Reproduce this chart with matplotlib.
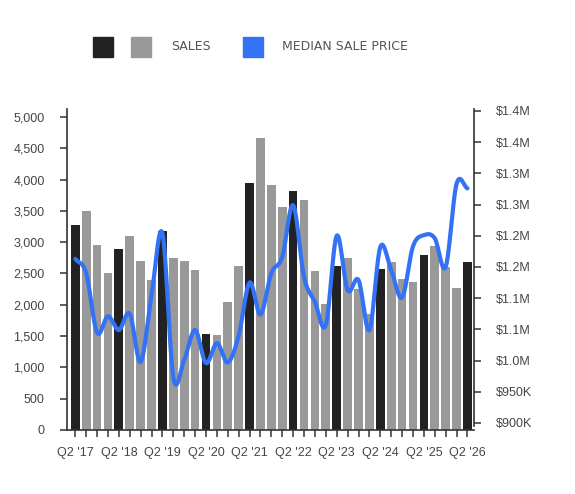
import numpy as np
import matplotlib
matplotlib.use("Agg")
import matplotlib.pyplot as plt
from matplotlib.patches import Rectangle

plt.rcParams['font.family'] = ['Liberation Sans', 'DejaVu Sans']

# quarterly sales, Q2 '17 .. Q2 '26
sales = [3270, 3500, 2960, 2500, 2890, 3105, 2700, 2390, 3180, 2745, 2700, 2550,
         1540, 1515, 2045, 2615, 3940, 4670, 3910, 3570, 3825, 3680, 2540, 2010,
         2620, 2745, 2250, 1850, 2575, 2690, 2405, 2360, 2790, 2935, 2605, 2275,
         2690]
# median sale price, in thousands
price_k = [1163, 1140, 1045, 1071, 1049, 1075, 998, 1105, 1204, 973, 1001, 1049,
           996, 1028, 997, 1040, 1125, 1074, 1140, 1166, 1249, 1134, 1094, 1057,
           1200, 1113, 1129, 1049, 1182, 1145, 1101, 1183, 1201, 1196, 1150, 1283,
           1276]
years = ["'17", "'18", "'19", "'20", "'21", "'22", "'23", "'24", "'25", "'26"]
left_ticks = [0, 500, 1000, 1500, 2000, 2500, 3000, 3500, 4000, 4500, 5000]
right_ticks = [900, 950, 1000, 1050, 1100, 1150, 1200, 1250, 1300, 1350, 1400]
right_labels = ["$900K", "$950K", "$1.0M", "$1.1M", "$1.1M", "$1.2M", "$1.2M",
                "$1.3M", "$1.3M", "$1.4M", "$1.4M"]

DARK = "#222222"
GRAY = "#999999"
BLUE = "#3371f5"
AXC = "#333333"
TXT = "#444444"


def catmull_rom(x, y, n=20):
    """smooth curve through the given points (uniform catmull-rom)"""
    x = np.asarray(x, float)
    y = np.asarray(y, float)
    px = np.concatenate(([2 * x[0] - x[1]], x, [2 * x[-1] - x[-2]]))
    py = np.concatenate(([2 * y[0] - y[1]], y, [2 * y[-1] - y[-2]]))
    xs, ys = [], []
    t = np.linspace(0, 1, n, endpoint=False)
    for i in range(1, len(px) - 2):
        for p, out in ((px, xs), (py, ys)):
            p0, p1, p2, p3 = p[i - 1], p[i], p[i + 1], p[i + 2]
            out.append(0.5 * (2 * p1 + (-p0 + p2) * t
                              + (2 * p0 - 5 * p1 + 4 * p2 - p3) * t ** 2
                              + (-p0 + 3 * p1 - 3 * p2 + p3) * t ** 3))
    xs.append([x[-1]])
    ys.append([y[-1]])
    return np.concatenate(xs), np.concatenate(ys)


n = len(sales)
idx = np.arange(n)
colors = [DARK if i % 4 == 0 else GRAY for i in idx]

fig = plt.figure(figsize=(5.75, 4.94), dpi=100)
ax = fig.add_axes([0.1165, 0.1296, 0.7078, 0.6498])
ax.bar(idx, sales, width=0.8, color=colors, zorder=2)
ax.set_xlim(-0.76, n - 1 + 0.6)
ax.set_ylim(0, 5128)
ax.set_yticks(left_ticks)
ax.set_yticklabels([f"{v:,}" for v in left_ticks])
ax.set_xticks(idx[::4])
ax.set_xticklabels(["Q2 " + y for y in years])
ax.set_xticks(idx, minor=True)

for s in ["top", "right"]:
    ax.spines[s].set_visible(False)
for s in ["left", "bottom"]:
    ax.spines[s].set_color(AXC)
    ax.spines[s].set_linewidth(1.2)
ax.tick_params(axis="both", which="both", direction="out", length=5, width=1.1,
               color=AXC, labelcolor=TXT, labelsize=9)
ax.tick_params(axis="y", pad=11)
ax.tick_params(axis="x", pad=7)

ax2 = ax.twinx()
sx, sy = catmull_rom(idx, price_k)
ax2.plot(sx, sy, color=BLUE, lw=3, solid_capstyle="round", zorder=3)
ax2.set_ylim(888.8, 1403.2)
ax2.set_yticks(right_ticks)
ax2.set_yticklabels(right_labels)
for s in ["top", "left", "bottom"]:
    ax2.spines[s].set_visible(False)
ax2.spines["right"].set_color(AXC)
ax2.spines["right"].set_linewidth(1.2)
ax2.spines["right"].set_bounds(895, 1403.2)
ax2.tick_params(axis="y", direction="out", length=5, width=1.1, color=AXC,
                labelcolor=TXT, labelsize=9, pad=11)

# legend across the top
W, H = 575.0, 494.0
sq = 20
for x0, c in [(93, DARK), (131, GRAY), (243, BLUE)]:
    fig.add_artist(Rectangle((x0 / W, 1 - 57 / H), sq / W, sq / H,
                             transform=fig.transFigure, color=c))
fig.text(171 / W, 1 - 47 / H, "SALES", fontsize=9, color="#555555",
         va="center", ha="left", family=["DejaVu Sans"])
fig.text(282 / W, 1 - 47 / H, "MEDIAN SALE PRICE", fontsize=9, color="#555555",
         va="center", ha="left", family=["DejaVu Sans"])

fig.savefig("out.png", dpi=100)
